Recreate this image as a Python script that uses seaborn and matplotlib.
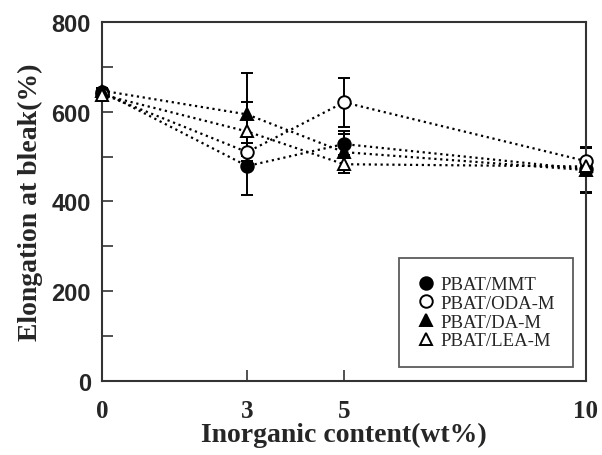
import numpy as np
import pandas as pd
import matplotlib
matplotlib.use("Agg")
import matplotlib.pyplot as plt
import seaborn as sns
from matplotlib.ticker import MultipleLocator

content = [0, 3, 5, 10]
series = ['PBAT/MMT', 'PBAT/ODA-M', 'PBAT/DA-M', 'PBAT/LEA-M']
mmt = [645, 479, 528, 472]
oda = [640, 510, 621, 490]
da = [647, 594, 510, 470]
lea = [638, 556, 483, 478]
mmt_err = [8, 65, 30, 50]
oda_err = [6, 20, 55, 30]
da_err = [6, 92, 40, 50]
lea_err = [6, 65, 20, 15]

values = [mmt, oda, da, lea]
errors = [mmt_err, oda_err, da_err, lea_err]
markers = ['o', 'o', '^', '^']
faces = ['black', 'white', 'black', 'white']

sns.set_style("ticks")
serif = ['Liberation Serif', 'DejaVu Serif']
sans = ['Liberation Sans', 'DejaVu Sans']

fig = plt.figure(figsize=(6.02, 4.56), dpi=100)
ax = fig.add_axes([0.1694, 0.1623, 0.804, 0.7873])

for name, vals, errs, m, fc in zip(series, values, errors, markers, faces):
    df = pd.DataFrame({'content': content, 'elong': vals})
    ax.errorbar(df['content'], df['elong'], yerr=errs, fmt='none', ecolor='black',
                elinewidth=1.4, capsize=4.5, capthick=1.4, clip_on=False, zorder=2)
    sns.lineplot(data=df, x='content', y='elong', ax=ax, color='black',
                 linestyle=':', linewidth=1.6, marker=m, markersize=9,
                 markerfacecolor=fc, markeredgecolor='black', markeredgewidth=1.4,
                 label=name, clip_on=False, zorder=3)

ax.set_xlim(0, 10)
ax.set_ylim(0, 800)
ax.set_xticks(content)
ax.set_yticks([0, 200, 400, 600, 800])
ax.yaxis.set_minor_locator(MultipleLocator(100))
ax.tick_params(axis='both', which='both', direction='in', length=8, width=1.2, color='#333333')
ax.tick_params(axis='y', pad=8)
ax.tick_params(axis='x', pad=13)
for lab in ax.get_yticklabels():
    lab.set_family(sans)
    lab.set_fontweight('bold')
    lab.set_fontsize(17)
for lab in ax.get_xticklabels():
    lab.set_family(serif)
    lab.set_fontweight('bold')
    lab.set_fontsize(18)
for sp in ax.spines.values():
    sp.set_linewidth(1.5)
    sp.set_color('#333333')
    sp.set_visible(True)

ax.set_xlabel('Inorganic content(wt%)', family=serif, fontweight='bold', fontsize=20, labelpad=0)
ax.set_ylabel('Elongation at bleak(%)', family=serif, fontweight='bold', fontsize=20, labelpad=6)

leg = ax.legend(loc='lower right', bbox_to_anchor=(0.973, 0.039), frameon=True, fancybox=False,
                prop={'family': serif, 'size': 13.5}, handlelength=0.9, handletextpad=0.35,
                labelspacing=0.08, borderpad=0.95, borderaxespad=0)
for h in leg.legend_handles:
    h.set_linestyle('none')
leg.get_frame().set_edgecolor('#333333')
leg.get_frame().set_linewidth(1.3)

fig.savefig('out.png', dpi=100)
